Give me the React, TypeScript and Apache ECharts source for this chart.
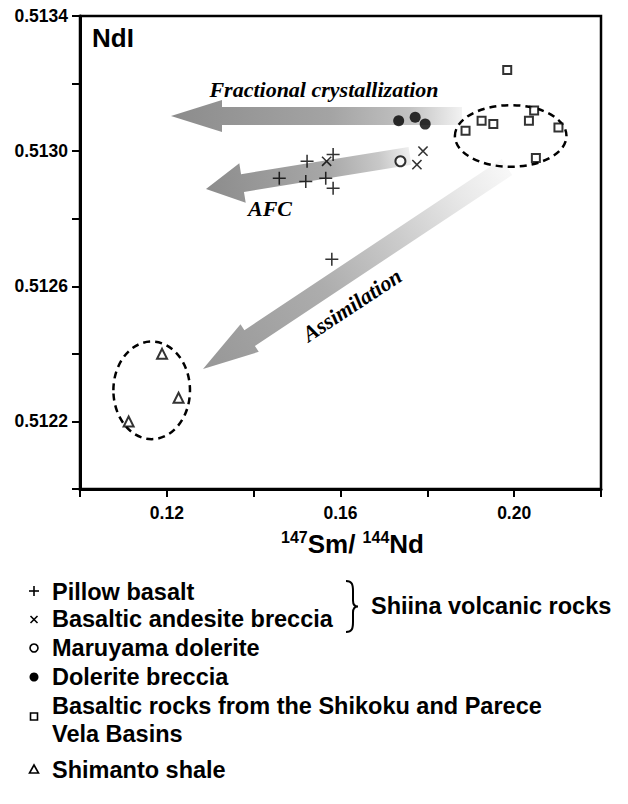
import React, { useEffect, useRef } from 'react';
import * as echarts from 'echarts';

// ---------- data ----------
const pillowBasalt: number[][] = [
  [0.1523, 0.51297], [0.1583, 0.51299], [0.1459, 0.51292], [0.1520, 0.51291],
  [0.1566, 0.51292], [0.1583, 0.51289], [0.1580, 0.51268],
];
const basalticAndesiteBreccia: number[][] = [
  [0.1568, 0.51297], [0.1790, 0.51300], [0.1776, 0.51296],
];
const maruyamaDolerite: number[][] = [[0.1738, 0.51297]];
const doleriteBreccia: number[][] = [
  [0.1734, 0.51309], [0.1772, 0.51310], [0.1795, 0.51308],
];
const basinBasalts: number[][] = [
  [0.1984, 0.51324], [0.1888, 0.51306], [0.1925, 0.51309], [0.1952, 0.51308],
  [0.2034, 0.51309], [0.2046, 0.51312], [0.2102, 0.51307], [0.2050, 0.51298],
];
const shimantoShale: number[][] = [
  [0.1189, 0.51240], [0.1227, 0.51227], [0.1112, 0.51220],
];

// trend arrows: tip and tail in data units
const arrowNames = ['Fractional crystallization', 'AFC', 'Assimilation'];
const arrowTips: number[][] = [[0.12096, 0.513104], [0.12902, 0.512888], [0.12833, 0.512355]];
const arrowTails: number[][] = [[0.18798, 0.513104], [0.17601, 0.512986], [0.19835, 0.512953]];

// dashed fields: centre and radii in data units
const fieldCenters: number[][] = [[0.1992, 0.513045], [0.11651, 0.512292]];
const fieldRadii: number[][] = [[0.01285, 0.0000912], [0.00882, 0.0001444]];

// tick labels
const xLabelValues = [0.12, 0.16, 0.20];
const yLabelValues = [0.5122, 0.5126, 0.5130, 0.5134];

// legend texts
const legendLabels = [
  'Pillow basalt',
  'Basaltic andesite breccia',
  'Maruyama dolerite',
  'Dolerite breccia',
  'Basaltic rocks from the Shikoku and Parece',
  'Vela Basins',
  'Shimanto shale',
];
const groupLabel = 'Shiina volcanic rocks';

// ---------- styles ----------
const SANS = '"Liberation Sans", Arial, Helvetica, sans-serif';
const SERIF = '"Liberation Serif", "Times New Roman", serif';

const arrowShapes = [
  { shaft: 18, headW: 32, headL: 51 },
  { shaft: 18, headW: 40, headL: 37 },
  { shaft: 19, headW: 33, headL: 56 },
];
const arrowStops = [
  [
    { offset: 0, color: '#8c8c8c' }, { offset: 0.55, color: '#a4a4a4' },
    { offset: 0.82, color: '#c2c2c2' }, { offset: 1, color: '#f2f2f2' },
  ],
  [
    { offset: 0, color: '#8c8c8c' }, { offset: 0.6, color: '#a8a8a8' },
    { offset: 0.85, color: '#c8c8c8' }, { offset: 1, color: '#eeeeee' },
  ],
  [
    { offset: 0, color: '#979797' }, { offset: 0.4, color: '#adadad' },
    { offset: 0.65, color: '#cccccc' }, { offset: 0.85, color: '#e8e8e8' },
    { offset: 1, color: '#f8f8f8' },
  ],
];

const PLUS = 'path://M0,44H44V0H56V44H100V56H56V100H44V56H0Z';

echarts.graphic.registerShape(
  'brace',
  echarts.graphic.extendPath('M0,0 C6,0 7,3 7,10 L7,19 C7,23 9,25 12,25 C9,25 7,27 7,31 L7,40 C7,47 6,50 0,50', {})
);

function near(list: number[], v: number, eps: number) {
  return list.some((l) => Math.abs(l - v) < eps);
}

function renderArrow(params: any, api: any) {
  const i = params.dataIndex;
  const t = api.coord([api.value(0), api.value(1)]);
  const e = api.coord([api.value(2), api.value(3)]);
  const dx = e[0] - t[0];
  const dy = e[1] - t[1];
  const L = Math.hypot(dx, dy);
  const ux = dx / L;
  const uy = dy / L;
  const nx = -uy;
  const ny = ux;
  const s = arrowShapes[i];
  const bx = t[0] + ux * s.headL;
  const by = t[1] + uy * s.headL;
  const pts = [
    [t[0], t[1]],
    [bx + (nx * s.headW) / 2, by + (ny * s.headW) / 2],
    [bx + (nx * s.shaft) / 2, by + (ny * s.shaft) / 2],
    [e[0] + (nx * s.shaft) / 2, e[1] + (ny * s.shaft) / 2],
    [e[0] - (nx * s.shaft) / 2, e[1] - (ny * s.shaft) / 2],
    [bx - (nx * s.shaft) / 2, by - (ny * s.shaft) / 2],
    [bx - (nx * s.headW) / 2, by - (ny * s.headW) / 2],
  ];
  return {
    type: 'polygon',
    shape: { points: pts },
    style: {
      fill: new echarts.graphic.LinearGradient(t[0], t[1], e[0], e[1], arrowStops[i], true),
    },
  };
}

function renderField(params: any, api: any) {
  const c = api.coord([api.value(0), api.value(1)]);
  const sz = api.size([api.value(2), api.value(3)]);
  return {
    type: 'ellipse',
    shape: { cx: c[0], cy: c[1], rx: sz[0], ry: sz[1] },
    style: { fill: 'none', stroke: '#000', lineWidth: 2.5, lineDash: [7, 5] },
  };
}

function buildOption() {
  const legendFont = `bold 23.5px ${SANS}`;
  const italicFont = `italic bold 22px ${SERIF}`;
  const legendX = 52;
  const legendY = [592, 619, 648, 677, 706, 734, 770];
  const symX = 34;
  const txt = (text: string, x: number, y: number, font: string, extra: any = {}) => ({
    type: 'text',
    x,
    y,
    z: 20,
    ...extra,
    style: { text, font, fill: '#000', textAlign: extra.align || 'left', textVerticalAlign: 'middle' },
  });
  const blk = { stroke: '#000', lineWidth: 1.6 };
  const tickRich = { t: { fontSize: 17.5, fontWeight: 'bold', fontFamily: SANS, color: '#000' } };

  return {
    animation: false,
    backgroundColor: '#fff',
    grid: {
      left: 80, top: 16, right: 27, bottom: 315,
      show: true, borderColor: '#000', borderWidth: 2.5, containLabel: false,
      outerBoundsMode: 'none',
    },
    xAxis: {
      type: 'value', min: 0.10, max: 0.22, interval: 0.02,
      axisLine: { show: true, onZero: false, lineStyle: { color: '#000', width: 3 } },
      axisTick: { show: true, length: 8, lineStyle: { color: '#000', width: 2 } },
      axisLabel: {
        margin: 15, color: '#000', fontSize: 17.5, fontWeight: 'bold', fontFamily: SANS,
        showMinLabel: true, showMaxLabel: true, rich: tickRich,
        formatter: (v: number) => (near(xLabelValues, v, 1e-6) ? `{t|${v.toFixed(2)}}` : ''),
      },
      splitLine: { show: false },
      name: '{s|147}{b|Sm/ }{s|144}{b|Nd}',
      nameLocation: 'middle',
      nameGap: 40,
      nameTextStyle: {
        padding: [0, 0, 0, 24],
        rich: {
          b: { fontSize: 26, fontWeight: 'bold', fontFamily: SANS, color: '#000', lineHeight: 30 },
          s: { fontSize: 16, fontWeight: 'bold', fontFamily: SANS, color: '#000', lineHeight: 16, verticalAlign: 'top' },
        },
      },
    },
    yAxis: {
      type: 'value', min: 0.5120, max: 0.5134, interval: 0.0002,
      axisLine: { show: true, onZero: false, lineStyle: { color: '#000', width: 3 } },
      axisTick: { show: true, length: 8, lineStyle: { color: '#000', width: 2 } },
      axisLabel: {
        margin: 12, color: '#000', fontSize: 17.5, fontWeight: 'bold', fontFamily: SANS,
        showMinLabel: true, showMaxLabel: true, rich: tickRich,
        formatter: (v: number) => (near(yLabelValues, v, 1e-8) ? `{t|${v.toFixed(4)}}` : ''),
      },
      splitLine: { show: false },
    },
    series: [
      {
        type: 'custom', name: 'trends', coordinateSystem: 'cartesian2d', silent: true, z: 1,
        encode: { x: [0, 2], y: [1, 3] },
        data: arrowTips.map((t, i) => [t[0], t[1], arrowTails[i][0], arrowTails[i][1], arrowNames[i]]),
        renderItem: renderArrow,
      },
      {
        type: 'custom', name: 'fields', coordinateSystem: 'cartesian2d', silent: true, z: 3,
        encode: { x: 0, y: 1 },
        data: fieldCenters.map((c, i) => [c[0], c[1], fieldRadii[i][0], fieldRadii[i][1]]),
        renderItem: renderField,
      },
      {
        type: 'scatter', name: legendLabels[0], data: pillowBasalt, z: 5,
        symbol: PLUS, symbolSize: 13, itemStyle: { color: '#000' },
      },
      {
        type: 'scatter', name: legendLabels[1], data: basalticAndesiteBreccia, z: 5,
        symbol: PLUS, symbolSize: 13, symbolRotate: 45, itemStyle: { color: '#000' },
      },
      {
        type: 'scatter', name: legendLabels[2], data: maruyamaDolerite, z: 5,
        symbol: 'emptyCircle', symbolSize: 10, itemStyle: { color: '#000' },
      },
      {
        type: 'scatter', name: legendLabels[3], data: doleriteBreccia, z: 5,
        symbol: 'circle', symbolSize: 11, itemStyle: { color: '#000' },
      },
      {
        type: 'scatter', name: 'Basaltic rocks from the Shikoku and Parece Vela Basins', data: basinBasalts, z: 5,
        symbol: 'emptyRect', symbolSize: 8, itemStyle: { color: '#000' },
      },
      {
        type: 'scatter', name: legendLabels[6], data: shimantoShale, z: 5,
        symbol: 'emptyTriangle', symbolSize: 10, itemStyle: { color: '#000' },
      },
    ],
    graphic: [
      txt('NdI', 92, 38, `bold 26px ${SANS}`),
      txt(arrowNames[0], 324, 89, italicFont, { align: 'center' }),
      txt(arrowNames[1], 270, 208, italicFont, { align: 'center' }),
      txt(arrowNames[2], 352, 305, italicFont, { align: 'center', rotation: 0.583 }),
      // legend texts
      ...legendLabels.map((l, i) => txt(l, legendX, legendY[i], legendFont)),
      txt(groupLabel, 371, 606, legendFont),
      {
        type: 'brace', x: 346, y: 581, scaleX: 1, scaleY: 1.02, z: 20,
        style: { fill: 'none', stroke: '#000', lineWidth: 2 },
      },
      // legend symbols
      { type: 'line', z: 20, shape: { x1: symX - 5, y1: 591, x2: symX + 5, y2: 591 }, style: blk },
      { type: 'line', z: 20, shape: { x1: symX, y1: 586, x2: symX, y2: 596 }, style: blk },
      { type: 'line', z: 20, shape: { x1: symX - 3.5, y1: 616, x2: symX + 3.5, y2: 623 }, style: blk },
      { type: 'line', z: 20, shape: { x1: symX - 3.5, y1: 623, x2: symX + 3.5, y2: 616 }, style: blk },
      { type: 'circle', z: 20, shape: { cx: symX, cy: 648, r: 4 }, style: { fill: '#fff', ...blk } },
      { type: 'circle', z: 20, shape: { cx: symX, cy: 677, r: 4.5 }, style: { fill: '#000' } },
      { type: 'rect', z: 20, shape: { x: symX - 3.5, y: 713, width: 7, height: 7 }, style: { fill: 'none', ...blk } },
      { type: 'polygon', z: 20, shape: { points: [[symX, 765], [symX - 4.5, 773], [symX + 4.5, 773]] }, style: { fill: 'none', ...blk } },
    ],
  };
}

export default function App() {
  const ref = useRef<HTMLDivElement>(null);
  useEffect(() => {
    if (!ref.current) return;
    const chart = echarts.init(ref.current, undefined, { renderer: 'svg' });
    chart.setOption(buildOption() as any);
    return () => chart.dispose();
  }, []);
  return (
    <div
      ref={ref}
      style={{ position: 'fixed', left: 0, top: 0, width: 628, height: 804, background: '#fff' }}
    />
  );
}
